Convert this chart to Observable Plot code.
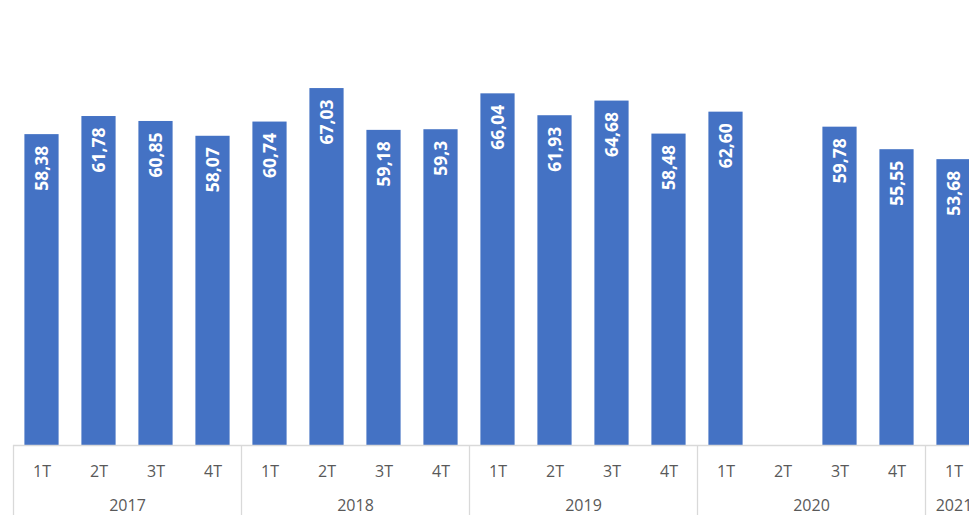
<!DOCTYPE html>
<html><head><meta charset="utf-8">
<script src="https://cdn.jsdelivr.net/npm/d3@7"></script>
<script src="https://cdn.jsdelivr.net/npm/@observablehq/plot@0.6"></script>
<style>
html,body{margin:0;padding:0;background:#fff;overflow:hidden;width:969px;height:515px}
#chart svg{max-width:none !important;display:block}
</style>
</head><body><div id="chart"></div>
<script>
const quarters = ["1T","2T","3T","4T","1T","2T","3T","4T","1T","2T","3T","4T","1T","2T","3T","4T","1T"];
const years = ["2017","2017","2017","2017","2018","2018","2018","2018","2019","2019","2019","2019","2020","2020","2020","2020","2021"];
const values = [58.38,61.78,60.85,58.07,60.74,67.03,59.18,59.3,66.04,61.93,64.68,58.48,62.60,null,59.78,55.55,53.68];
const valueLabels = ["58,38","61,78","60,85","58,07","60,74","67,03","59,18","59,3","66,04","61,93","64,68","58,48","62,60","","59,78","55,55","53,68"];
const yearNames = ["2017","2018","2019","2020","2021"];

const idx = d3.range(quarters.length);
const data = idx.map(i => ({i, q: quarters[i], year: years[i], v: values[i], label: valueLabels[i]})).filter(d => d.v != null);
const yearCenters = yearNames.map(y => d3.mean(idx.filter(i => years[i] === y)));
const yearStarts = yearNames.map(y => d3.min(idx.filter(i => years[i] === y)) - 0.5);
const font = "Open Sans, Lato, sans-serif";
const grey = "#595959";

const chart = Plot.plot({
  width: 982, height: 515,
  marginLeft: 13, marginRight: 0, marginTop: 19, marginBottom: 70,
  style: {fontFamily: font, background: "#fff"},
  x: {domain: [-0.5, quarters.length - 0.5], axis: null, label: null},
  y: {domain: [0, 80], axis: null, label: null},
  marks: [
    Plot.rectY(data, {x1: d => d.i - 0.3, x2: d => d.i + 0.3, y: "v", fill: "#4472C4"}),
    Plot.text(data, {x: "i", y: "v", text: "label", rotate: -90, textAnchor: "end", lineAnchor: "middle",
      dy: 11, fill: "white", fontWeight: "bold", fontSize: 17.5, fontFamily: font}),
    Plot.ruleY([0], {stroke: "#d9d9d9", strokeWidth: 1.3}),
    Plot.axisX(yearStarts, {tickSize: 70, tickFormat: () => "", label: null, stroke: "#d9d9d9", strokeWidth: 1.3}),
    Plot.axisX(idx, {tickSize: 0, tickPadding: 20, tickFormat: i => quarters[i], label: null, fontSize: 16, fill: grey, fontFamily: font}),
    Plot.axisX(yearCenters, {tickSize: 0, tickPadding: 54, tickFormat: (c, k) => yearNames[k], label: null, fontSize: 16, fill: grey, fontFamily: font})
  ]
});
document.getElementById("chart").append(chart);
</script>
</body></html>
